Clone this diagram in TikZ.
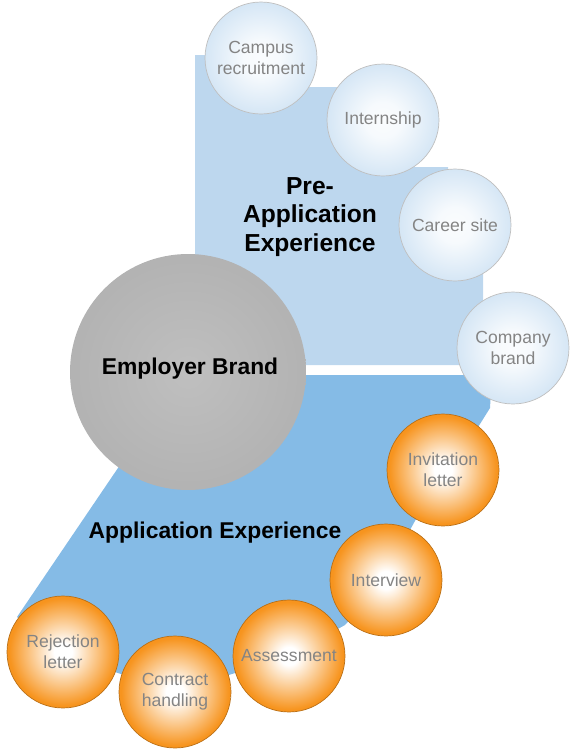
\documentclass[tikz,border=0pt]{standalone}
\usepackage{fontspec}
\setmainfont{Liberation Sans}
\usepackage{tikz}

\definecolor{paleblue}{HTML}{BDD7EE}
\definecolor{midblue}{HTML}{85BBE6}
\definecolor{ballorange}{HTML}{F7941E}
\definecolor{ballblue}{HTML}{C4DCF1}
\definecolor{labelgray}{HTML}{848484}

\pgfdeclareradialshading{orangeball}{\pgfpoint{0bp}{0bp}}{color(0bp)=(white); color(4bp)=(white); color(24bp)=(ballorange); color(50bp)=(ballorange)}
\pgfdeclareradialshading{blueball}{\pgfpoint{0bp}{0bp}}{color(0bp)=(white!92!ballblue); color(8bp)=(white!85!ballblue); color(34bp)=(ballblue); color(50bp)=(ballblue)}
\pgfdeclareradialshading{grayball}{\pgfpoint{0bp}{0bp}}{color(0bp)=(black!25); color(35bp)=(black!32); color(50bp)=(black!32)}

\begin{document}
\begin{tikzpicture}[x=0.02cm, y=-0.02cm,
	bubble/.style={shape=circle, minimum size=2.24cm, inner sep=0pt, align=center, text=labelgray, font=\fontsize{10}{12}\selectfont},
	preball/.style={bubble, shading=blueball, draw=black!25, line width=0.4pt},
	appball/.style={bubble, shading=orangeball, draw=ballorange!75!black, line width=0.4pt},
	heading/.style={align=center, text=black, font=\bfseries\fontsize{13}{16}\selectfont}]
	
	\useasboundingbox (0,0) rectangle (571,751);
	
	% the two areas
	\fill[paleblue] (195,55) -- (300,55) -- (300,87) -- (400,87) -- (400,167) -- (448,167) -- (448,265) -- (483,265) -- (483,365) -- (195,365) -- cycle;
	\fill[midblue] (181,375) -- (492,375) -- (490,408) -- (470,440) -- (443,470) -- (410,530) -- (386,580) -- (345,625) -- (289,656) -- (232,674) -- (175,692) -- (115,672) -- (63,652) -- (17,617) -- cycle;
	
	\node[shape=circle, minimum size=4.72cm, inner sep=0pt, shading=grayball] (brand) at (188,372) {};
	\node[heading] (brandtext) at (190,369) {Employer Brand};
	
	\node[heading, font=\bfseries\fontsize{14}{16.2}\selectfont] (pre) at (310,217) {Pre-\\Application\\Experience};
	\node[heading] (app) at (215,533) {Application Experience};
	
	\node[preball] (campus)  at (261,58)  {Campus\\recruitment};
	\node[preball] (intern)  at (383,120) {Internship};
	\node[preball] (career)  at (455,225) {Career site};
	\node[preball] (company) at (513,348) {Company\\brand};
	
	\node[appball] (invite)    at (443,470) {Invitation\\letter};
	\node[appball] (interview) at (386,580) {Interview};
	\node[appball] (assess)    at (289,656) {Assessment};
	\node[appball] (contract)  at (175,692) {Contract\\handling};
	\node[appball] (reject)    at (63,652)  {Rejection\\letter};
	
\end{tikzpicture}
\end{document}
